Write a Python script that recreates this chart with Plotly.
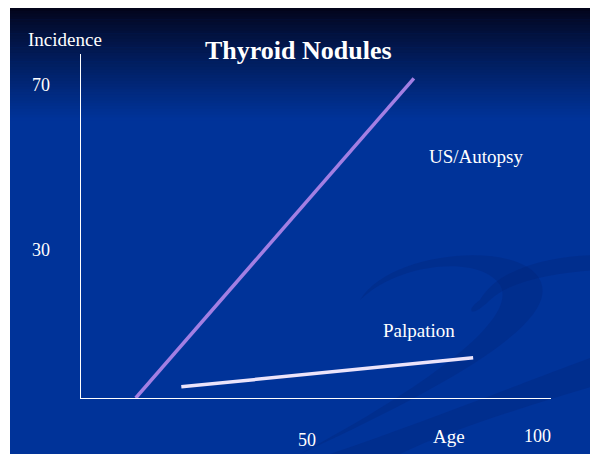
import plotly.graph_objects as go

# ---- data ----
us_age = [12, 73]
us_incidence = [0, 71.5]
palp_age = [22, 86]
palp_incidence = [2.5, 9]

y_tick_labels = ["70", "30"]
x_tick_labels = ["50", "100"]
title_text = "Thyroid Nodules"
series_names = ["US/Autopsy", "Palpation"]

# page body has an 8px margin; the figure sits at (8, 8)
OX, OY = 8, 8
W, H = 598 - OX, 454 - OY
FONT = "Liberation Serif"

def px(x):
    return (x - OX) / W

def py(y):
    return 1 - (y - OY) / H

fig = go.Figure()
fig.add_trace(go.Scatter(x=us_age, y=us_incidence, mode="lines",
                         line=dict(color="#a27fe3", width=3.5),
                         name=series_names[0], showlegend=False, hoverinfo="skip"))
fig.add_trace(go.Scatter(x=palp_age, y=palp_incidence, mode="lines",
                         line=dict(color="#ece4fb", width=3.5),
                         name=series_names[1], showlegend=False, hoverinfo="skip"))

shapes = []
shapes.append(dict(type="rect", xref="paper", yref="paper", x0=px(10), x1=1,
                   y0=0, y1=1, fillcolor="#003399", line=dict(width=0), layer="below"))
top = (3, 4, 26)
bot = (0, 51, 153)
n = 40
y_start, y_end = 8, 120
for i in range(n):
    t = i / (n - 1)
    t2 = t ** 0.85
    c = tuple(int(round(top[k] + (bot[k] - top[k]) * t2)) for k in range(3))
    ya = y_start + (y_end - y_start) * i / n
    yb = y_start + (y_end - y_start) * (i + 1) / n + 0.5
    shapes.append(dict(type="rect", xref="paper", yref="paper", x0=px(10), x1=1,
                       y0=py(yb), y1=min(1, py(ya)), fillcolor="rgb(%d,%d,%d)" % c,
                       line=dict(width=0), layer="below"))

def pth(points):
    s = "M %f,%f " % (px(points[0][0]), py(points[0][1]))
    for seg in points[1:]:
        s += "C %f,%f %f,%f %f,%f " % (px(seg[0]), py(seg[1]), px(seg[2]), py(seg[3]), px(seg[4]), py(seg[5]))
    return s + "Z"

sw1 = pth([(360, 300),
           (390, 250, 520, 240, 540, 280),
           (560, 320, 460, 380, 300, 454),
           (420, 390, 520, 320, 500, 285),
           (480, 255, 400, 262, 360, 300)])
sw2 = pth([(480, 300),
           (500, 265, 560, 255, 598, 255),
           (598, 265, 598, 268, 598, 270),
           (560, 272, 510, 280, 490, 300),
           (470, 320, 465, 310, 480, 300)])
sw3 = pth([(330, 454),
           (430, 420, 530, 380, 598, 355),
           (598, 365, 598, 375, 598, 385),
           (530, 405, 450, 430, 400, 454),
           (380, 454, 350, 454, 330, 454)])
for s in (sw1, sw2, sw3):
    shapes.append(dict(type="path", xref="paper", yref="paper", path=s,
                       fillcolor="rgba(0,30,110,0.25)", line=dict(width=0), layer="below"))

annotations = []
def txt(text, x, y, size=18, bold=False):
    annotations.append(dict(text=("<b>%s</b>" % text) if bold else text,
                            x=px(x), y=py(y), xref="paper", yref="paper",
                            showarrow=False, xanchor="center", yanchor="middle",
                            font=dict(family=FONT, size=size, color="white")))

txt(title_text, 298, 50, size=26, bold=True)
txt("Incidence", 65, 40, size=19)
txt(y_tick_labels[0], 41, 85)
txt(y_tick_labels[1], 41, 250)
txt(series_names[0], 476, 156, size=19)
txt(series_names[1], 419, 330, size=19)
txt(x_tick_labels[0], 307, 440)
txt("Age", 449, 436, size=19)
txt(x_tick_labels[1], 537, 436)

x_scale = 4.56
y_scale = 4.4714
fig.update_layout(
    width=W, height=H, autosize=False,
    margin=dict(l=0, r=0, t=0, b=0),
    paper_bgcolor="white", plot_bgcolor="rgba(0,0,0,0)",
    shapes=shapes, annotations=annotations,
    xaxis=dict(domain=[px(81), px(551)], range=[0, (551 - 81) / x_scale],
               showgrid=False, zeroline=False, showticklabels=False, ticks="",
               showline=True, linecolor="white", linewidth=1.2, fixedrange=True),
    yaxis=dict(domain=[py(398), py(54)], range=[0, (398 - 54) / y_scale],
               showgrid=False, zeroline=False, showticklabels=False, ticks="",
               showline=True, linecolor="white", linewidth=1.2, fixedrange=True),
)

fig.write_html("out.html")
